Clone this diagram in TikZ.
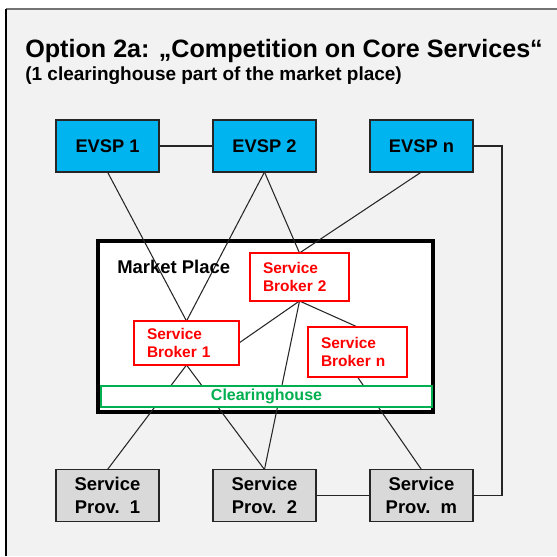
\documentclass[tikz,border=0pt]{standalone}
\usepackage{fontspec}
\setmainfont{Liberation Sans}
\usetikzlibrary{positioning}
\pgfdeclarelayer{back}
\pgfdeclarelayer{wires}
\pgfsetlayers{back,wires,main}
\definecolor{evspblue}{HTML}{00B4F0}
\definecolor{brokerred}{HTML}{FF0000}
\definecolor{cleargreen}{HTML}{00B050}
\definecolor{provgray}{HTML}{D9D9D9}
\definecolor{panelgray}{HTML}{F2F2F2}

\begin{document}
\begin{tikzpicture}[x=0.02cm,y=-0.02cm,node distance=1.08cm]
        \tikzstyle{evsp}
	  =[draw=black!85, fill=evspblue, rectangle, line width=0.7pt,
	  minimum width=2.06cm, minimum height=1.04cm, outer sep=0pt,
	  font=\fontsize{10.4}{12}\selectfont\bfseries]
        \tikzstyle{prov}
	  =[evsp, fill=provgray, align=center,
	  font=\fontsize{10.5}{13}\selectfont\bfseries]
        \tikzstyle{broker}
	  =[draw=brokerred, fill=white, rectangle, line width=1.6pt,
	  text=brokerred, align=left, inner xsep=0.26cm, outer sep=0pt,
	  font=\fontsize{8.8}{10.2}\selectfont\bfseries]
        \tikzstyle{wire}=[draw=black!85, line width=0.6pt]

	% frame and background
	\useasboundingbox (0,0) rectangle (557,556);
	\begin{pgfonlayer}{back}
	\fill[white] (0,0) rectangle (557,556);
	\fill[panelgray] (6,9) rectangle (557,556);
	\draw[black!55, line width=0.6pt] (6,9) -- (557,9);
	\draw[line width=1.2pt] (6,556) -- (6,9);
	\end{pgfonlayer}

	\node[anchor=base west, inner sep=0pt,
	  font=\fontsize{14.3}{16}\selectfont\bfseries] (title)
	  at (25,57) {Option 2a: „Competition on Core Services“};
	\node[anchor=base west, inner sep=0pt,
	  font=\fontsize{10.8}{12}\selectfont\bfseries] (subtitle)
	  at (25,80) {(1 clearinghouse part of the market place)};

	% EV service providers
	\node[evsp] (evsp1) at (107.5,146) {EVSP 1};
	\node[evsp] (evsp2) [right=of evsp1] {EVSP 2};
	\node[evsp] (evspn) [right=of evsp2] {EVSP n};

	% market place
	\begin{pgfonlayer}{back}
	\node[draw, fill=white, line width=2pt, minimum width=6.7cm,
	  minimum height=3.42cm] (market) at (265.5,326.5) {};
	\end{pgfonlayer}
	\node[anchor=base west, inner sep=0pt,
	  font=\fontsize{10.5}{12}\selectfont\bfseries] (marketlabel)
	  at (117,273) {Market Place};

	\node[broker, text width=1.46cm, minimum height=0.96cm] (broker2)
	  at (299.5,277) {Service\\Broker 2};
	\node[broker, text width=1.58cm, minimum height=0.88cm] (broker1)
	  at (186.5,343) {Service\\Broker 1};
	\node[broker, text width=1.46cm, minimum height=1.0cm] (brokern)
	  at (357.5,352) {Service\\Broker n};

	\node[draw=cleargreen, fill=white, line width=1.6pt, text=cleargreen,
	  minimum width=6.62cm, minimum height=0.42cm, inner sep=0pt,
	  font=\fontsize{9.1}{11}\selectfont\bfseries] (clearing)
	  at (266.5,396.5) {Clearinghouse};

	% service providers
	\node[prov] (prov1) at (107.5,495.5) {Service\\Prov.~~1};
	\node[prov] (prov2) [right=of prov1] {Service\\Prov.~~2};
	\node[prov] (provm) [right=of prov2] {Service\\Prov.~~m};

	\coordinate (bend) at (502,146);

	% connections
	\begin{pgfonlayer}{wires}
	\draw[wire] (evsp1) -- (evsp2);
	\draw[wire] (evsp1.south) -- (broker1.north);
	\draw[wire] (evsp2.south) -- (broker1.north);
	\draw[wire] (evsp2.south) -- (broker2.north);
	\draw[wire] (evspn.south) -- (broker2.north);
	\draw[wire] (broker2.south) -- (broker1.east);
	\draw[wire] (broker2.south) -- (brokern.north);
	\draw[wire] (broker2.south) -- (prov2.north);
	\draw[wire] (broker1.south) -- (prov1.north);
	\draw[wire] (broker1.south) -- (prov2.north);
	\draw[wire] (brokern.south) -- (provm.north);
	\draw[wire] (prov2) -- (provm);
	\draw[wire] (evspn) -- (bend) |- (provm);
	\end{pgfonlayer}
    \end{tikzpicture}
\end{document}
